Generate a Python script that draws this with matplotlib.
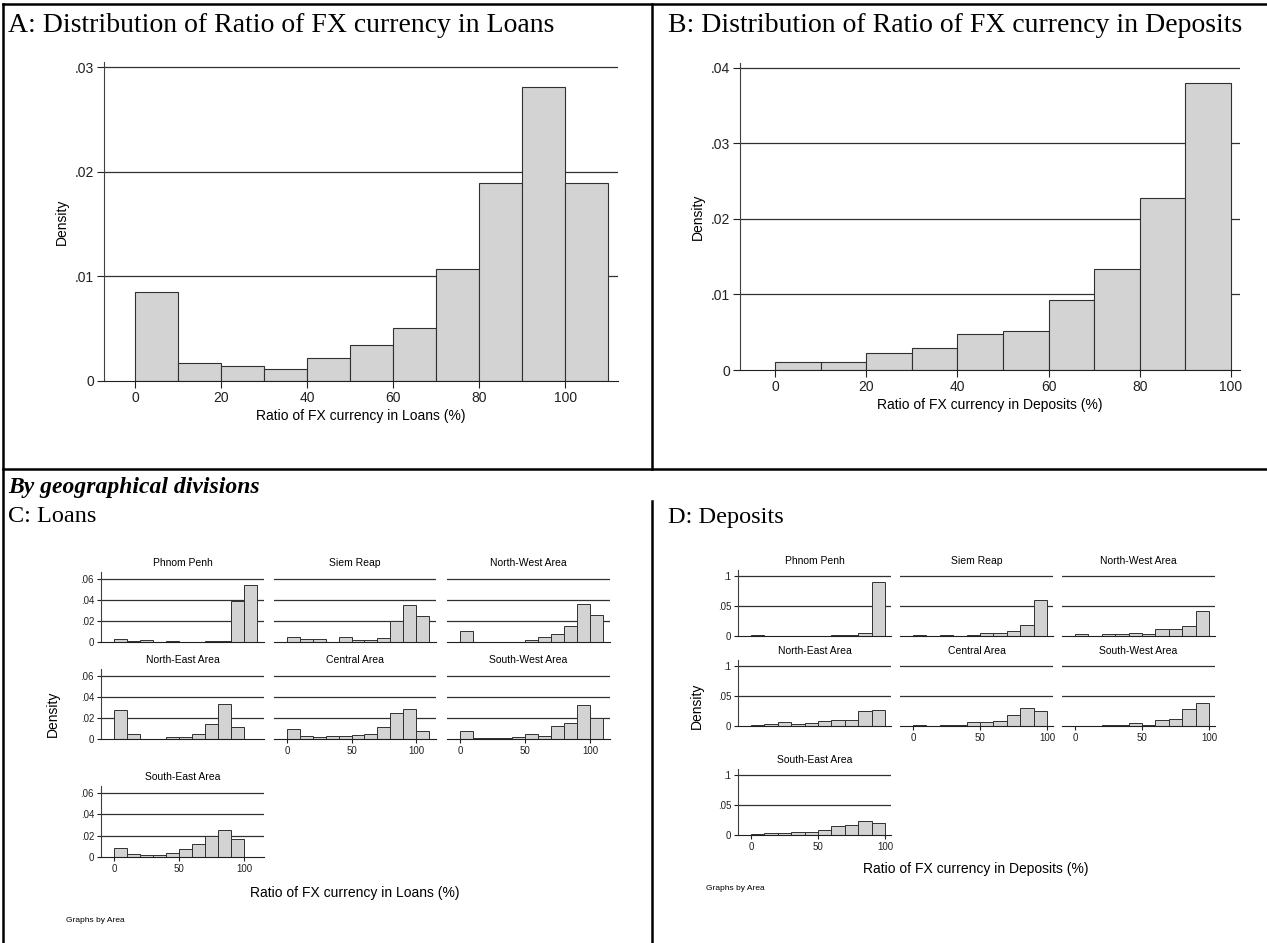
import numpy as np
import matplotlib.pyplot as plt
from matplotlib.lines import Line2D

# bin width 10, left edges start at 0
loans_all = [0.0085, 0.0017, 0.0014, 0.0011, 0.0022, 0.0034, 0.0051, 0.0107, 0.0189, 0.0281, 0.0189]
deposits_all = [0.0010, 0.0010, 0.0022, 0.0029, 0.0048, 0.0052, 0.0093, 0.0134, 0.0227, 0.0380]

areas = ["Phnom Penh", "Siem Reap", "North-West Area", "North-East Area",
         "Central Area", "South-West Area", "South-East Area"]

loans_area = {
    "Phnom Penh":      [0.0028, 0.0009, 0.0019, 0.0, 0.0008, 0.0, 0.0, 0.0008, 0.0008, 0.0390, 0.0540],
    "Siem Reap":       [0.0049, 0.0028, 0.0028, 0.0, 0.0049, 0.0015, 0.0015, 0.0037, 0.0200, 0.0355, 0.0248],
    "North-West Area": [0.0108, 0.0, 0.0, 0.0, 0.0, 0.0015, 0.0046, 0.0077, 0.0151, 0.0360, 0.0256],
    "North-East Area": [0.0275, 0.0050, 0.0, 0.0, 0.0019, 0.0019, 0.0050, 0.0144, 0.0336, 0.0114, 0.0],
    "Central Area":    [0.0092, 0.0030, 0.0018, 0.0027, 0.0030, 0.0036, 0.0048, 0.0110, 0.0244, 0.0290, 0.0076],
    "South-West Area": [0.0080, 0.0006, 0.0006, 0.0006, 0.0018, 0.0043, 0.0028, 0.0123, 0.0157, 0.0326, 0.0203],
    "South-East Area": [0.0085, 0.0027, 0.0018, 0.0015, 0.0033, 0.0073, 0.0124, 0.0200, 0.0255, 0.0167, 0.0],
}

deposits_area = {
    "Phnom Penh":      [0.0015, 0.0, 0.0, 0.0, 0.0008, 0.0, 0.0010, 0.0018, 0.0045, 0.0900],
    "Siem Reap":       [0.0012, 0.0, 0.0010, 0.0, 0.0014, 0.0048, 0.0053, 0.0080, 0.0185, 0.0600],
    "North-West Area": [0.0027, 0.0, 0.0027, 0.0032, 0.0058, 0.0032, 0.0113, 0.0124, 0.0172, 0.0410],
    "North-East Area": [0.0016, 0.0032, 0.0070, 0.0032, 0.0054, 0.0086, 0.0102, 0.0102, 0.0248, 0.0263],
    "Central Area":    [0.0011, 0.0004, 0.0020, 0.0020, 0.0067, 0.0060, 0.0078, 0.0178, 0.0305, 0.0244],
    "South-West Area": [0.0003, 0.0005, 0.0010, 0.0017, 0.0044, 0.0022, 0.0100, 0.0117, 0.0289, 0.0378],
    "South-East Area": [0.0010, 0.0028, 0.0028, 0.0056, 0.0056, 0.0083, 0.0144, 0.0161, 0.0233, 0.0206],
}

W, H = 1267, 943
SANS = "Liberation Sans"
SERIF = "Liberation Serif"
FILL = "#d3d3d3"
EDGE = "#303030"
GRID = "#303030"

fig = plt.figure(figsize=(W / 100, H / 100), dpi=100)


def box(x0, x1, ytop, ybot):
    return fig.add_axes([x0 / W, 1 - ybot / H, (x1 - x0) / W, (ybot - ytop) / H])


def ftext(x, y, s, **kw):
    fig.text(x / W, 1 - y / H, s, **kw)


def fline(x0, y0, x1, y1):
    fig.add_artist(Line2D([x0 / W, x1 / W], [1 - y0 / H, 1 - y1 / H],
                          transform=fig.transFigure, color="black", lw=1.8))


def fmt(v):
    s = ("%g" % v)
    return s[1:] if s.startswith("0.") else s


def hist(ax, vals, xlim, ylim, yticks, xticks, show_y, show_x, fs, tlen, lw=0.8):
    edges = np.arange(len(vals)) * 10
    ax.bar(edges, vals, width=10, align="edge", color=FILL, edgecolor=EDGE,
           linewidth=lw, zorder=3)
    for y in yticks[1:]:
        ax.axhline(y, color=GRID, lw=0.9, zorder=1)
    ax.set_xlim(*xlim)
    ax.set_ylim(*ylim)
    ax.set_facecolor("none")
    for s in ["top", "right"]:
        ax.spines[s].set_visible(False)
    ax.spines["bottom"].set_color("#202020")
    ax.spines["left"].set_color("#404040")
    ax.spines["bottom"].set_zorder(4)
    ax.spines["left"].set_visible(show_y)
    ax.tick_params(colors="#202020", labelsize=fs, length=tlen, width=0.8, pad=2)
    if show_y:
        ax.set_yticks(yticks)
        ax.set_yticklabels([fmt(v) for v in yticks], fontfamily=SANS)
    else:
        ax.set_yticks([])
    if show_x:
        ax.set_xticks(xticks)
        ax.set_xticklabels([str(v) for v in xticks], fontfamily=SANS)
    else:
        ax.set_xticks([])


# ---- top row
axA = box(104, 618, 62, 381)
hist(axA, loans_all, (-7.2, 112.3), (0, 0.0305), [0, 0.01, 0.02, 0.03],
     [0, 20, 40, 60, 80, 100], True, True, 10, 5)
axA.set_ylabel("Density", fontfamily=SANS, fontsize=10, labelpad=4)
axA.set_xlabel("Ratio of FX currency in Loans (%)", fontfamily=SANS, fontsize=10, labelpad=3)

axB = box(740, 1240, 63, 370)
hist(axB, deposits_all, (-7.7, 102.0), (0, 0.0406), [0, 0.01, 0.02, 0.03, 0.04],
     [0, 20, 40, 60, 80, 100], True, True, 10, 5)
axB.set_ylabel("Density", fontfamily=SANS, fontsize=10, labelpad=4)
axB.set_xlabel("Ratio of FX currency in Deposits (%)", fontfamily=SANS, fontsize=10, labelpad=3)

ftext(8, 25, "A: Distribution of Ratio of FX currency in Loans", fontfamily=SERIF,
      fontsize=20, va="center")
ftext(668, 25, "B: Distribution of Ratio of FX currency in Deposits", fontfamily=SERIF,
      fontsize=20, va="center")

# ---- bottom row
ftext(8, 487, "By geographical divisions", fontfamily=SERIF, fontsize=17,
      fontweight="bold", fontstyle="italic", va="center")
ftext(8, 517, "C: Loans", fontfamily=SERIF, fontsize=17.5, va="center")
ftext(668, 517, "D: Deposits", fontfamily=SERIF, fontsize=17.5, va="center")

c_cols = [(101, 264), (274, 436), (447, 610)]
c_rows = [(572, 642), (669, 739), (786, 857)]
d_cols = [(738, 891), (900, 1053), (1062, 1215)]
d_rows = [(570, 636), (660, 726), (769, 835)]

for i, name in enumerate(areas):
    r, c = divmod(i, 3)
    # x labels on the lowest panel of each column
    show_x = (r == 2) or (r == 1 and c > 0)

    ax = box(c_cols[c][0], c_cols[c][1], c_rows[r][0], c_rows[r][1])
    hist(ax, loans_area[name], (-10, 115.4), (0, 0.0667), [0, 0.02, 0.04, 0.06],
         [0, 50, 100], c == 0, show_x, 7, 3, lw=0.7)
    ax.set_title(name, fontfamily=SANS, fontsize=7.5, pad=4)

    ax = box(d_cols[c][0], d_cols[c][1], d_rows[r][0], d_rows[r][1])
    hist(ax, deposits_area[name], (-9.7, 104.5), (0, 0.11), [0, 0.05, 0.1],
         [0, 50, 100], c == 0, show_x, 7, 3, lw=0.7)
    ax.set_title(name, fontfamily=SANS, fontsize=7.5, pad=4)

ftext(53, 714, "Density", fontfamily=SANS, fontsize=10, rotation=90, ha="center", va="center")
ftext(697, 706, "Density", fontfamily=SANS, fontsize=10, rotation=90, ha="center", va="center")
ftext(355, 893, "Ratio of FX currency in Loans (%)", fontfamily=SANS, fontsize=10,
      ha="center", va="center")
ftext(976, 869, "Ratio of FX currency in Deposits (%)", fontfamily=SANS, fontsize=10,
      ha="center", va="center")
ftext(66, 920, "Graphs by Area", fontfamily=SANS, fontsize=6, va="center")
ftext(706, 888, "Graphs by Area", fontfamily=SANS, fontsize=6, va="center")

# ---- table borders
fline(3, 4, W, 4)
fline(3, 4, 3, H)
fline(3, 469, W, 469)
fline(652, 4, 652, 469)
fline(652, 501, 652, H)

fig.savefig("out.png", dpi=100)
